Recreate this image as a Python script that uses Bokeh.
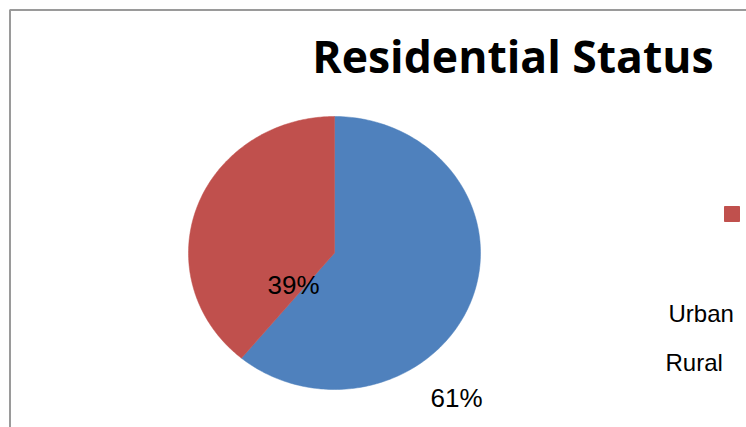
import numpy as np
from bokeh.plotting import figure
from bokeh.models import Range1d, ColumnDataSource
from bokeh.core.properties import value
from bokeh.embed import file_html
from bokeh.resources import INLINE

# ---- data ----
categories = ["Urban", "Rural"]
values = [61, 39]
pct_labels = ["61%", "39%"]
colors = ["#4F81BD", "#C0504D"]
title_text = "Residential Status"

# ---- layout (pixels inside the figure) ----
W, H = 746, 427
cx_px, cy_px = 334, 252.5    # pie centre from figure's top-left
rx_px, ry_px = 146, 136.5    # pie radii

x0 = -cx_px / rx_px
x1 = (W - cx_px) / rx_px
y1 = cy_px / ry_px
y0 = -(H - cy_px) / ry_px

p = figure(width=W, height=H, output_backend="svg", toolbar_location=None,
           x_range=Range1d(x0, x1), y_range=Range1d(y0, y1),
           min_border=0, outline_line_color=None)
p.axis.visible = False
p.grid.visible = False
p.background_fill_color = "white"
p.border_fill_color = "white"

def px_x(px):
    return (px - cx_px) / rx_px

def px_y(py):
    return (cy_px - py) / ry_px

# ---- chart border (left and top only visible) ----
p.line(x=[px_x(9.5), px_x(9.5), px_x(W + 5)], y=[px_y(H + 5), px_y(9.5), px_y(9.5)],
       line_color="#9a9a9a", line_width=2)

# ---- pie slices (start at 12 o'clock, clockwise), unit radius in data ----
total = float(sum(values))
xs, ys = [], []
start = 0.0
for v in values:
    frac = v / total
    a = np.linspace(start, start + frac, 200) * 2 * np.pi
    px = np.concatenate([[0.0], np.sin(a), [0.0]])
    py = np.concatenate([[0.0], np.cos(a), [0.0]])
    xs.append(list(px))
    ys.append(list(py))
    start += frac
src = ColumnDataSource(dict(xs=xs, ys=ys, color=colors, cat=categories))
p.patches("xs", "ys", source=src, fill_color="color", line_color="color", line_width=0.5)

# ---- percent labels ----
label_px = [(456, 397), (293, 284)]
p.text(x=[px_x(lp[0]) for lp in label_px], y=[px_y(lp[1]) for lp in label_px],
       text=pct_labels, text_align="center", text_baseline="middle",
       text_font=value("Liberation Sans"), text_font_size="26px", text_color="black")

# ---- title ----
p.text(x=[px_x(512.5)], y=[px_y(55)], text=[title_text], text_align="center",
       text_baseline="middle", text_font=value("Open Sans"), text_font_style="bold",
       text_font_size="44.5px", text_color="black")

# ---- legend pieces (as in reference) ----
p.scatter(x=[px_x(731.5)], y=[px_y(213.5)], marker="square", size=15,
          fill_color=colors[1], line_color=colors[1])
p.text(x=[px_x(668), px_x(665)], y=[px_y(313), px_y(362)], text=categories,
       text_align="left", text_baseline="middle",
       text_font=value("Liberation Sans"), text_font_size="24px", text_color="black")

open("out.html", "w").write(file_html(p, INLINE))
